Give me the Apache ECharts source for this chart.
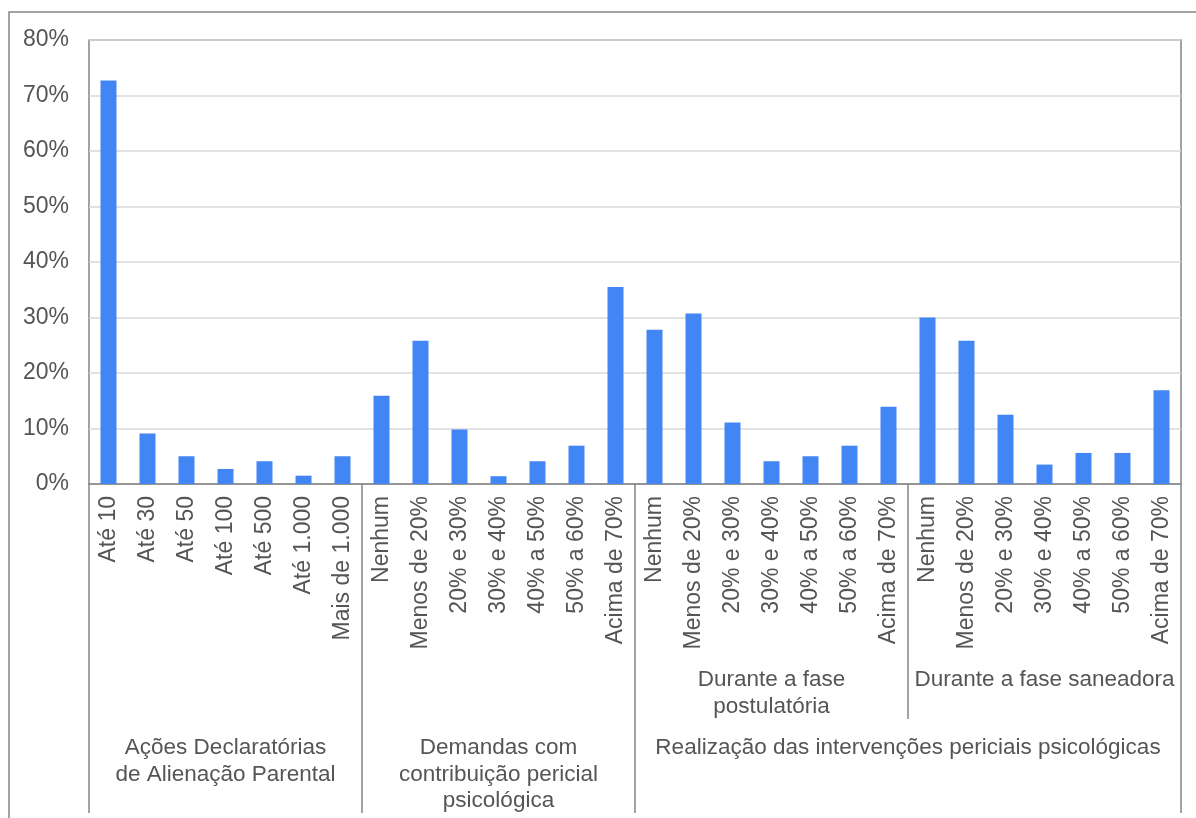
<!DOCTYPE html>
<html>
<head>
<meta charset="utf-8">
<style>
  html, body { margin: 0; padding: 0; background: #fff; }
  #chart { width: 1196px; height: 818px; }
</style>
<script src="https://cdn.jsdelivr.net/npm/echarts@6/dist/echarts.min.js"></script>
</head>
<body>
<div id="chart"></div>
<script>
  // categorias (nível mais baixo do eixo)
  const categories = [
    'Até 10', 'Até 30', 'Até 50', 'Até 100', 'Até 500', 'Até 1.000', 'Mais de 1.000',
    'Nenhum', 'Menos de 20%', '20% e 30%', '30% e 40%', '40% a 50%', '50% a 60%', 'Acima de 70%',
    'Nenhum', 'Menos de 20%', '20% e 30%', '30% e 40%', '40% a 50%', '50% a 60%', 'Acima de 70%',
    'Nenhum', 'Menos de 20%', '20% e 30%', '30% e 40%', '40% a 50%', '50% a 60%', 'Acima de 70%'
  ]
  // percentuais
  const values = [
    72.7, 9.1, 5.0, 2.7, 4.1, 1.5, 5.0,
    15.9, 25.8, 9.8, 1.4, 4.1, 6.9, 35.5,
    27.8, 30.7, 11.1, 4.1, 5.0, 6.9, 13.9,
    30.0, 25.8, 12.5, 3.5, 5.6, 5.6, 16.9
  ]
  // grupos: [início, fim, rótulo]
  const outerGroups = [
    [0, 7, 'Ações Declaratórias\nde Alienação Parental'],
    [7, 14, 'Demandas com\ncontribuição pericial\npsicológica'],
    [14, 28, 'Realização das intervenções periciais psicológicas']
  ]
  const innerGroups = [
    [14, 21, 'Durante a fase\npostulatória'],
    [21, 28, 'Durante a fase saneadora']
  ]

  const textColor = '#555555'
  const lineColor = '#858585'
  const font = 'Liberation Sans, Arial, sans-serif'

  function groupAxis(groups, tickLen, labelMargin) {
    const labels = {}
    groups.forEach(g => { labels[(g[0] + g[1]) / 2] = g[2] })
    const edges = []
    groups.forEach(g => {
      if (edges.indexOf(g[0]) < 0) edges.push(g[0])
      if (edges.indexOf(g[1]) < 0) edges.push(g[1])
    })
    return {
      type: 'value',
      position: 'bottom',
      min: 0,
      max: categories.length,
      axisLine: { show: false },
      splitLine: { show: false },
      axisTick: {
        show: true,
        customValues: edges,
        length: tickLen,
        lineStyle: { color: lineColor, width: 1.5 }
      },
      axisLabel: {
        show: true,
        customValues: Object.keys(labels).map(Number),
        formatter: v => labels[v] || '',
        margin: labelMargin,
        color: textColor,
        fontFamily: font,
        fontSize: 22.5,
        lineHeight: 26.5,
        verticalAlign: 'top'
      }
    }
  }

  const chart = echarts.init(document.getElementById('chart'))
  chart.setOption({
    animation: false,
    grid: {
      left: 89,
      top: 40,
      right: 15,
      bottom: 334,
      show: true,
      borderColor: lineColor,
      borderWidth: 1.5
    },
    graphic: [{
      type: 'rect',
      shape: { x: 9, y: 12, width: 1400, height: 1000 },
      style: { fill: 'none', stroke: lineColor, lineWidth: 1.5 },
      silent: true,
      z: -10
    }],
    xAxis: [{
      type: 'category',
      data: categories,
      axisLine: { lineStyle: { color: lineColor, width: 1.5 } },
      axisTick: { show: false },
      axisLabel: {
        interval: 0,
        rotate: 90,
        margin: 12,
        color: textColor,
        fontFamily: font,
        fontSize: 23
      }
    },
    groupAxis(outerGroups, 329, 251),
    groupAxis(innerGroups, 235, 183)
    ],
    yAxis: {
      type: 'value',
      min: 0,
      max: 80,
      interval: 10,
      axisLine: { show: false },
      axisTick: { show: false },
      axisLabel: {
        formatter: '{value}%',
        margin: 20,
        color: textColor,
        fontFamily: font,
        fontSize: 23
      },
      splitLine: { lineStyle: { color: '#d9d9d9', width: 1.5 } }
    },
    series: [{
      type: 'bar',
      xAxisIndex: 0,
      data: values,
      barWidth: 16,
      itemStyle: { color: '#4285f4' }
    }]
  })
</script>
</body>
</html>
